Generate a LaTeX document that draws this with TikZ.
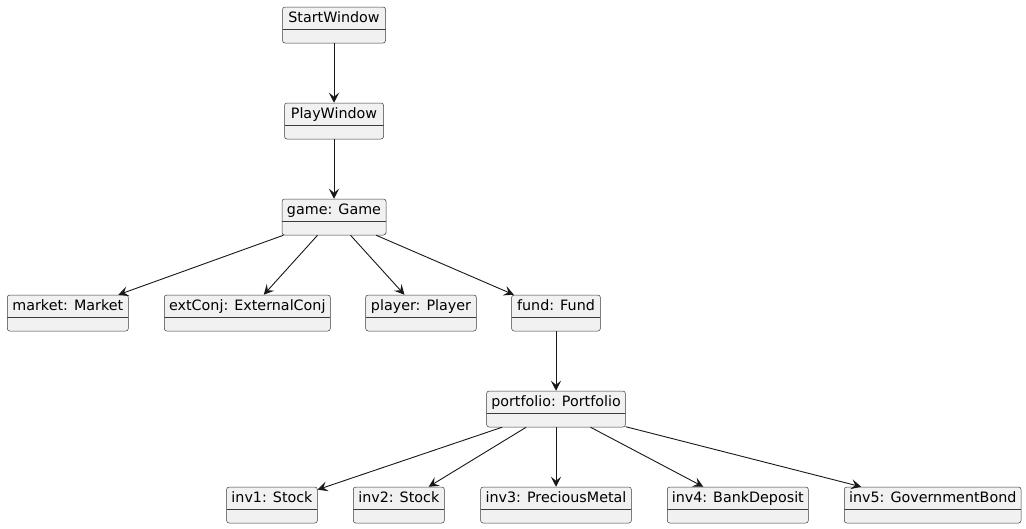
\documentclass[tikz,border=0pt]{standalone}
\usepackage{fontspec}
\setmainfont{DejaVu Sans}
\usetikzlibrary{arrows.meta}
\definecolor{boxc}{HTML}{F1F1F1}
\definecolor{bordc}{HTML}{3A3A3A}
\definecolor{linec}{HTML}{181818}
\tikzset{
  obj/.style={draw=bordc, line width=0.5pt, fill=boxc, rounded corners=2.5pt,
    inner sep=0pt, minimum height=36pt, text height=15pt, text depth=21pt,
    font=\fontsize{14.3}{16}\selectfont, align=center,
    path picture={\draw[bordc, line width=0.5pt]
      ([yshift=-22pt]path picture bounding box.north west) --
      ([yshift=-22pt]path picture bounding box.north east);}},
  arr/.style={draw=linec, line width=0.9pt,
    -{Stealth[length=10pt, width=10pt, inset=4pt]}}
}
\begin{document}
\begin{tikzpicture}[x=1pt, y=-1pt]
\useasboundingbox[fill=white] (0,0) rectangle (1026,528);
\node[obj, minimum width=103pt] (sw) at (334,25) {StartWindow};
\node[obj, minimum width=99pt] (pw) at (334,121) {PlayWindow};
\node[obj, minimum width=104pt] (game) at (334,217) {game: Game};
\node[obj, minimum width=121pt] (market) at (67.8,313) {market: Market};
\node[obj, minimum width=166pt] (ext) at (247.3,313) {extConj: ExternalConj};
\node[obj, minimum width=110.6pt] (player) at (421,313) {player: Player};
\node[obj, minimum width=88.7pt] (fund) at (556,313) {fund: Fund};
\node[obj, minimum width=138.7pt] (port) at (556,409) {portfolio: Portfolio};
\node[obj, minimum width=90.7pt] (inv1) at (272,505) {inv1: Stock};
\node[obj, minimum width=91pt] (inv2) at (398.8,505) {inv2: Stock};
\node[obj, minimum width=150.7pt] (inv3) at (556,505) {inv3: PreciousMetal};
\node[obj, minimum width=141pt] (inv4) at (737.8,505) {inv4: BankDeposit};
\node[obj, minimum width=176.7pt] (inv5) at (932.7,505) {inv5: GovernmentBond};
\draw[arr] (sw) -- (pw);
\draw[arr] (pw) -- (game);
\draw[arr] (game) -- (market);
\draw[arr] (game) -- (ext);
\draw[arr] (game) -- (player);
\draw[arr] (game) -- (fund);
\draw[arr] (fund) -- (port);
\draw[arr] (port) -- (inv1);
\draw[arr] (port) -- (inv2);
\draw[arr] (port) -- (inv3);
\draw[arr] (port) -- (inv4);
\draw[arr] (port) -- (inv5);
\end{tikzpicture}
\end{document}
